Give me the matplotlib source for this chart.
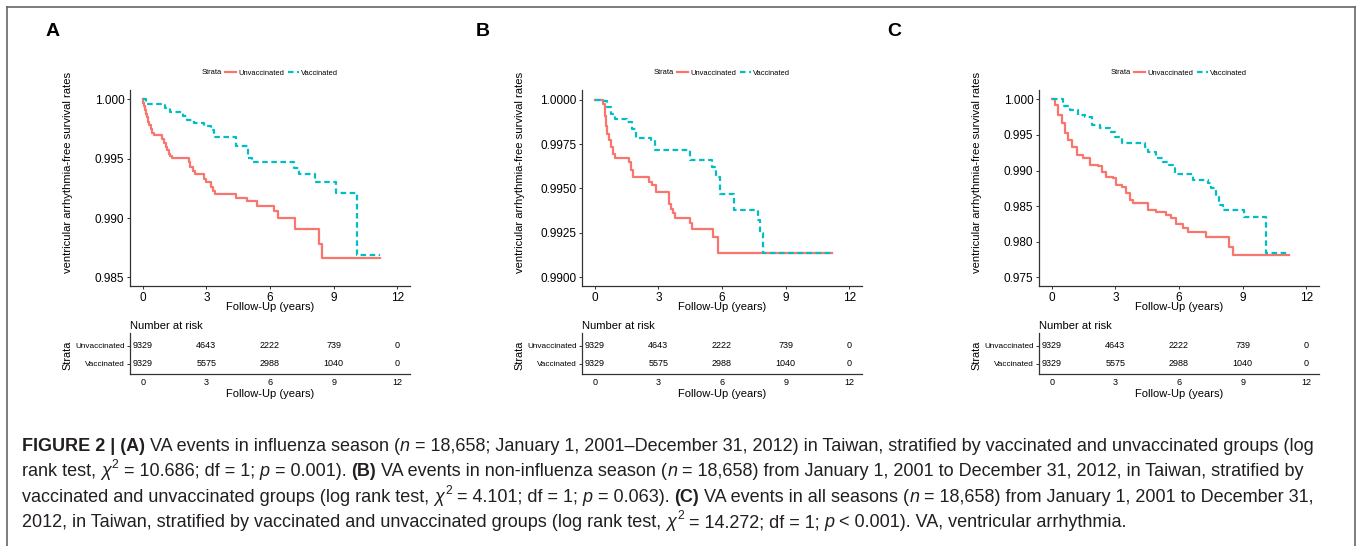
import numpy as np
import matplotlib
matplotlib.use('Agg')
import matplotlib.pyplot as plt
from matplotlib.lines import Line2D

plt.rcParams['font.family'] = ['Liberation Sans', 'DejaVu Sans']

W, H = 1357, 546

# ---------------- data ----------------
follow_up_end = 11.2
years = [0, 3, 6, 9, 12]
strata = ['Unvaccinated', 'Vaccinated']
risk_unvac = [9329, 4643, 2222, 739, 0]
risk_vac = [9329, 5575, 2988, 1040, 0]

# A: influenza season
a_unvac_t = [0, 0.03, 0.06, 0.1, 0.15, 0.2, 0.25, 0.3, 0.38, 0.45, 0.53, 0.92, 1.0, 1.08, 1.15, 1.22, 1.3, 1.39,
             2.17, 2.25, 2.35, 2.45, 2.9, 3.0, 3.2, 3.3, 3.4, 4.4, 4.9, 5.4, 6.17, 6.4, 7.2, 8.3, 8.45]
a_unvac_s = [1.0, 0.9997, 0.9994, 0.9991, 0.9988, 0.9985, 0.9981, 0.9978, 0.9975, 0.9972, 0.9970, 0.9967, 0.9963,
             0.9960, 0.9957, 0.9954, 0.9952, 0.9951, 0.9947, 0.9943, 0.9940, 0.9937, 0.9933, 0.9930, 0.9926, 0.9923,
             0.9920, 0.9917, 0.9914, 0.9910, 0.9906, 0.9900, 0.9891, 0.9878, 0.9866]
a_vac_t = [0, 0.15, 1.06, 1.3, 1.9, 2.1, 2.4, 2.9, 3.2, 3.35, 4.4, 4.95, 5.15, 7.15, 7.35, 8.1, 9.1, 10.08]
a_vac_s = [1.0, 0.9996, 0.9993, 0.9989, 0.9986, 0.9983, 0.9980, 0.99775, 0.9974, 0.9968, 0.9961, 0.9951, 0.99475,
           0.9942, 0.9937, 0.9930, 0.9921, 0.9869]

# B: non-influenza season
b_unvac_t = [0, 0.37, 0.5, 0.55, 0.6, 0.67, 0.75, 0.85, 0.95, 1.62, 1.73, 1.81, 2.56, 2.7, 2.87, 3.5, 3.6, 3.7,
             3.8, 4.5, 4.6, 5.57, 5.83]
b_unvac_s = [1.0, 0.99976, 0.9991, 0.99854, 0.99807, 0.9977, 0.99733, 0.99695, 0.99671, 0.99649, 0.99602, 0.99564,
             0.99536, 0.99518, 0.9948, 0.99415, 0.99387, 0.99359, 0.99331, 0.99307, 0.99269, 0.99224, 0.99134]
b_vac_t = [0, 0.45, 0.6, 0.75, 0.95, 1.54, 1.75, 1.95, 2.64, 2.85, 4.5, 5.55, 5.7, 5.9, 6.55, 7.7, 7.8, 7.95]
b_vac_s = [1.0, 0.9999, 0.99957, 0.9992, 0.99892, 0.99873, 0.99836, 0.99785, 0.9977, 0.99714, 0.99658, 0.9962,
           0.99564, 0.99471, 0.99381, 0.99321, 0.99247, 0.99134]

# C: all seasons
c_unvac_t = [0, 0.16, 0.31, 0.47, 0.63, 0.78, 0.94, 1.17, 1.49, 1.8, 2.19, 2.35, 2.58, 2.9, 3.05, 3.29, 3.52,
             3.68, 3.83, 4.54, 4.93, 5.4, 5.63, 5.87, 6.18, 6.42, 7.28, 8.37, 8.53]
c_unvac_s = [1.0, 0.9992, 0.9978, 0.99663, 0.99522, 0.99429, 0.99335, 0.99218, 0.99171, 0.99078, 0.99068, 0.98984,
             0.98914, 0.9889, 0.98797, 0.98773, 0.9868, 0.98586, 0.98549, 0.98446, 0.98422, 0.98376, 0.98329,
             0.98249, 0.98198, 0.98141, 0.98062, 0.97931, 0.97809]
c_vac_t = [0, 0.55, 0.86, 1.25, 1.56, 1.88, 2.27, 2.74, 2.97, 3.29, 4.38, 4.54, 4.93, 5.24, 5.55, 5.79, 6.65,
           7.36, 7.51, 7.75, 7.87, 8.06, 9.08, 10.1]
c_vac_s = [1.0, 0.99906, 0.9985, 0.9978, 0.99747, 0.9964, 0.99593, 0.99546, 0.99466, 0.99391, 0.99335, 0.99265,
           0.99171, 0.99125, 0.99078, 0.98951, 0.98867, 0.9882, 0.9875, 0.98633, 0.98516, 0.98446, 0.98352, 0.97846]

panel_letters = ['A', 'B', 'C']
panel_curves = [(a_unvac_t, a_unvac_s, a_vac_t, a_vac_s),
                (b_unvac_t, b_unvac_s, b_vac_t, b_vac_s),
                (c_unvac_t, c_unvac_s, c_vac_t, c_vac_s)]
panel_yticks = [[0.985, 0.990, 0.995, 1.000],
                [0.9900, 0.9925, 0.9950, 0.9975, 1.0000],
                [0.975, 0.980, 0.985, 0.990, 0.995, 1.000]]
panel_yfmt = ['%.3f', '%.4f', '%.3f']
panel_ylim = [(0.98427, 1.00079), (0.98951, 1.00054), (0.97378, 1.00131)]

caption_lines = [
    [("FIGURE 2 | (A)", 'bold'), (" VA events in influenza season (", 'normal'), ("n", 'italic'),
     (" = 18,658; January 1, 2001\u2013December 31, 2012) in Taiwan, stratified by vaccinated and unvaccinated groups (log", 'normal')],
    [("rank test, ", 'normal'), ("\u03c7", 'italic'), ("2", 'sup'), (" = 10.686; df = 1; ", 'normal'), ("p", 'italic'),
     (" = 0.001). ", 'normal'), ("(B)", 'bold'), (" VA events in non-influenza season (", 'normal'), ("n", 'italic'),
     (" = 18,658) from January 1, 2001 to December 31, 2012, in Taiwan, stratified by", 'normal')],
    [("vaccinated and unvaccinated groups (log rank test, ", 'normal'), ("\u03c7", 'italic'), ("2", 'sup'),
     (" = 4.101; df = 1; ", 'normal'), ("p", 'italic'), (" = 0.063). ", 'normal'), ("(C)", 'bold'),
     (" VA events in all seasons (", 'normal'), ("n", 'italic'),
     (" = 18,658) from January 1, 2001 to December 31,", 'normal')],
    [("2012, in Taiwan, stratified by vaccinated and unvaccinated groups (log rank test, ", 'normal'),
     ("\u03c7", 'italic'), ("2", 'sup'), (" = 14.272; df = 1; ", 'normal'), ("p", 'italic'),
     (" < 0.001). VA, ventricular arrhythmia.", 'normal')],
]

# ---------------- style ----------------
red = '#F8766D'
teal = '#00BFC4'
axis_col = '#333333'
dash = (0, (2.5, 1.6))
lw = 1.6


def box(left, top, right, bottom):
    return [left / W, 1 - bottom / H, (right - left) / W, (bottom - top) / H]


fig = plt.figure(figsize=(W / 100, H / 100), dpi=100)
renderer = fig.canvas.get_renderer()

# outer frame
for xs, ys in [([7, 7], [7, H]), ([7, 1355], [7, 7]), ([1355, 1355], [7, H])]:
    fig.add_artist(Line2D([x / W for x in xs], [1 - y / H for y in ys], color='#666666', lw=1.2,
                          transform=fig.transFigure))

lefts = [130, 582, 1039]
rights = [410, 862, 1319]
letter_x = [46, 476, 887]


def style_axis(ax):
    for s in ['top', 'right']:
        ax.spines[s].set_visible(False)
    for s in ['left', 'bottom']:
        ax.spines[s].set_color(axis_col)
        ax.spines[s].set_linewidth(0.9)
    ax.tick_params(colors=axis_col, length=2.5, width=0.7, pad=1.5, labelcolor='black')
    ax.set_facecolor('none')


for i in range(3):
    L, R = lefts[i], rights[i]
    ut, us, vt, vs = panel_curves[i]

    ax = fig.add_axes(box(L, 90, R, 286))
    style_axis(ax)
    ax.step(np.append(ut, follow_up_end), np.append(us, us[-1]), where='post', color=red, lw=lw)
    ax.step(np.append(vt, follow_up_end), np.append(vs, vs[-1]), where='post', color=teal, lw=lw, linestyle=dash)
    ax.set_xlim(-0.6, 12.6)
    ax.set_ylim(*panel_ylim[i])
    ax.set_xticks(years)
    ax.set_yticks(panel_yticks[i])
    ax.set_yticklabels([panel_yfmt[i] % v for v in panel_yticks[i]])
    ax.tick_params(labelsize=8.5)

    cx = (L + R) / 2
    fig.text(cx / W, 1 - 307 / H, 'Follow-Up (years)', ha='center', va='center', fontsize=8)
    fig.text((L - 62) / W, 1 - 172 / H, 'ventricular arrhythmia-free survival rates', rotation=90,
             ha='center', va='center', fontsize=8.1)
    fig.text(letter_x[i] / W, 1 - 32 / H, panel_letters[i], ha='left', va='center', fontsize=14,
             fontweight='bold')

    # legend: "Strata" + two keys, centred over the plot
    handles = [Line2D([], [], color=red, lw=lw), Line2D([], [], color=teal, lw=lw, linestyle=dash)]
    st = fig.text(0, 1 - 73 / H, 'Strata', ha='left', va='center', fontsize=5.4)
    leg = fig.legend(handles, strata, ncol=2, loc='center left', bbox_to_anchor=(0, 1 - 73 / H),
                     frameon=False, fontsize=5.4, handlelength=1.5, handletextpad=0.3, columnspacing=0.5,
                     borderpad=0, borderaxespad=0)
    sw = st.get_window_extent(renderer).width
    lwid = leg.get_window_extent(renderer).width
    gap = 3
    x0 = cx - (sw + gap + lwid) / 2
    st.set_x(x0 / W)
    leg.set_bbox_to_anchor(((x0 + sw + gap) / W, 1 - 73 / H), transform=fig.transFigure)

    # number-at-risk table
    tax = fig.add_axes(box(L, 333, R, 374))
    style_axis(tax)
    tax.set_xlim(-0.6, 12.6)
    tax.set_ylim(0.44, 2.72)
    for j, yr in enumerate(years):
        tax.text(yr, 2, str(risk_unvac[j]), ha='center', va='center', fontsize=6.5)
        tax.text(yr, 1, str(risk_vac[j]), ha='center', va='center', fontsize=6.5)
    tax.set_xticks(years)
    tax.set_yticks([2, 1])
    tax.set_yticklabels(strata)
    tax.tick_params(axis='y', labelsize=5.9)
    tax.tick_params(axis='x', labelsize=6.5, length=0, pad=3)
    tax.text(0, 1 + 7 / 41, 'Number at risk', transform=tax.transAxes, ha='left', va='center', fontsize=8)
    fig.text(cx / W, 1 - 394 / H, 'Follow-Up (years)', ha='center', va='center', fontsize=8)
    fig.text((L - 63) / W, 1 - 355 / H, 'Strata', rotation=90, ha='center', va='center', fontsize=7.8)

# ---------------- caption ----------------
cap_color = '#231f20'


def style_kw(style, size):
    kw = dict(fontsize=size, color=cap_color)
    if style == 'bold':
        kw['fontweight'] = 'bold'
    if style == 'italic':
        kw['fontstyle'] = 'italic'
    if style == 'sup':
        kw['fontsize'] = size * 0.68
    return kw


def lay_caption_line(runs, x0, base, size, draw=True):
    # each style run is one text; only the run edges need explicit spaces
    space = 0.278 * size * 100 / 72
    x = x0
    for text, style in runs:
        core = text.strip(' ')
        if text.startswith(' '):
            x += space
        dy = 0
        if style == 'sup':
            x += 1
            dy = size * 0.42 * 100 / 72
        t = fig.text(x / W, 1 - (base - dy) / H, core, ha='left', va='baseline', **style_kw(style, size))
        x += t.get_window_extent(renderer).width
        if text.endswith(' '):
            x += space
        if not draw:
            t.remove()
    return x - x0


base_size = 10
natural = lay_caption_line(caption_lines[0], 22, 451, base_size, draw=False)
cap_size = base_size * (1297 / natural)
for line, base in zip(caption_lines, [451, 476, 502, 527]):
    lay_caption_line(line, 22, base, cap_size)

fig.savefig('out.png', dpi=100)
